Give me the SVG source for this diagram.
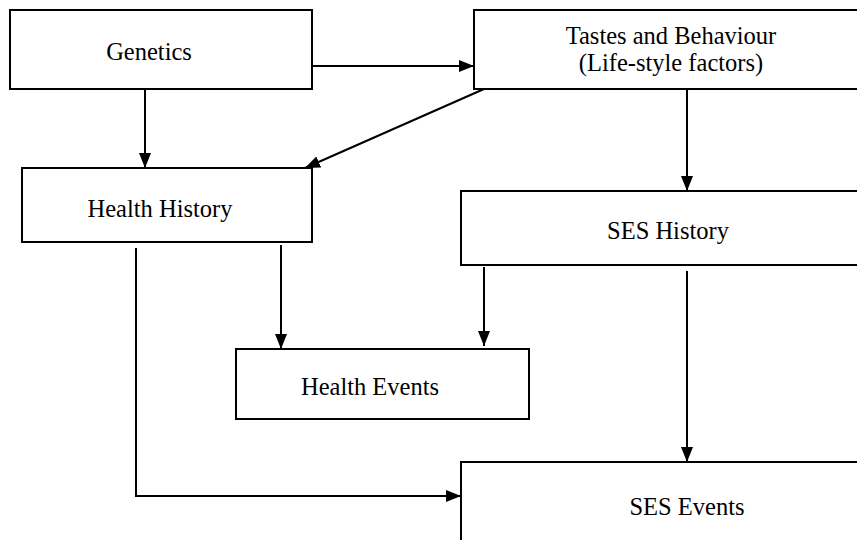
<svg xmlns="http://www.w3.org/2000/svg" width="857" height="540" viewBox="0 0 857 540">
<style>
.box{fill:#fff;stroke:#000;stroke-width:2}
.lbl{font-family:"Liberation Serif","Times New Roman",serif;font-size:24.5px;fill:#000;text-anchor:middle}
.con{fill:none;stroke:#000;stroke-width:2}
</style>
<defs>
<marker id="ah" markerUnits="userSpaceOnUse" markerWidth="15" markerHeight="12" refX="15" refY="6" orient="auto">
<path d="M0,0 L15,6 L0,12 z" fill="#000"/>
</marker>
</defs>
<rect width="857" height="540" fill="#fff"/>
<g id="genetics"><rect class="box" x="10" y="10" width="302" height="79"/><text class="lbl" x="149" y="60">Genetics</text></g>
<g id="tastes"><rect class="box" x="474" y="10" width="400" height="79"/><text class="lbl" x="671" y="44">Tastes and Behaviour</text><text class="lbl" x="671" y="71">(Life-style factors)</text></g>
<g id="health-history"><rect class="box" x="22" y="168" width="290" height="74"/><text class="lbl" x="160" y="217">Health History</text></g>
<g id="ses-history"><rect class="box" x="461" y="191" width="420" height="74"/><text class="lbl" x="668" y="239">SES History</text></g>
<g id="health-events"><rect class="box" x="236" y="349" width="293" height="70"/><text class="lbl" x="370" y="395">Health Events</text></g>
<g id="ses-events"><rect class="box" x="461" y="462" width="420" height="100"/><text class="lbl" x="687" y="515">SES Events</text></g>
<g id="connectors">
<line class="con" x1="312" y1="66" x2="474" y2="66" marker-end="url(#ah)"/>
<line class="con" x1="145" y1="89" x2="145" y2="168" marker-end="url(#ah)"/>
<line class="con" x1="484" y1="89" x2="305" y2="168" marker-end="url(#ah)"/>
<line class="con" x1="687" y1="89" x2="687" y2="191" marker-end="url(#ah)"/>
<line class="con" x1="281" y1="245" x2="281" y2="349" marker-end="url(#ah)"/>
<line class="con" x1="484" y1="267" x2="484" y2="346" marker-end="url(#ah)"/>
<polyline class="con" points="136,248 136,496 461,496" marker-end="url(#ah)"/>
<line class="con" x1="687" y1="271" x2="687" y2="462" marker-end="url(#ah)"/>
</g>
</svg>
